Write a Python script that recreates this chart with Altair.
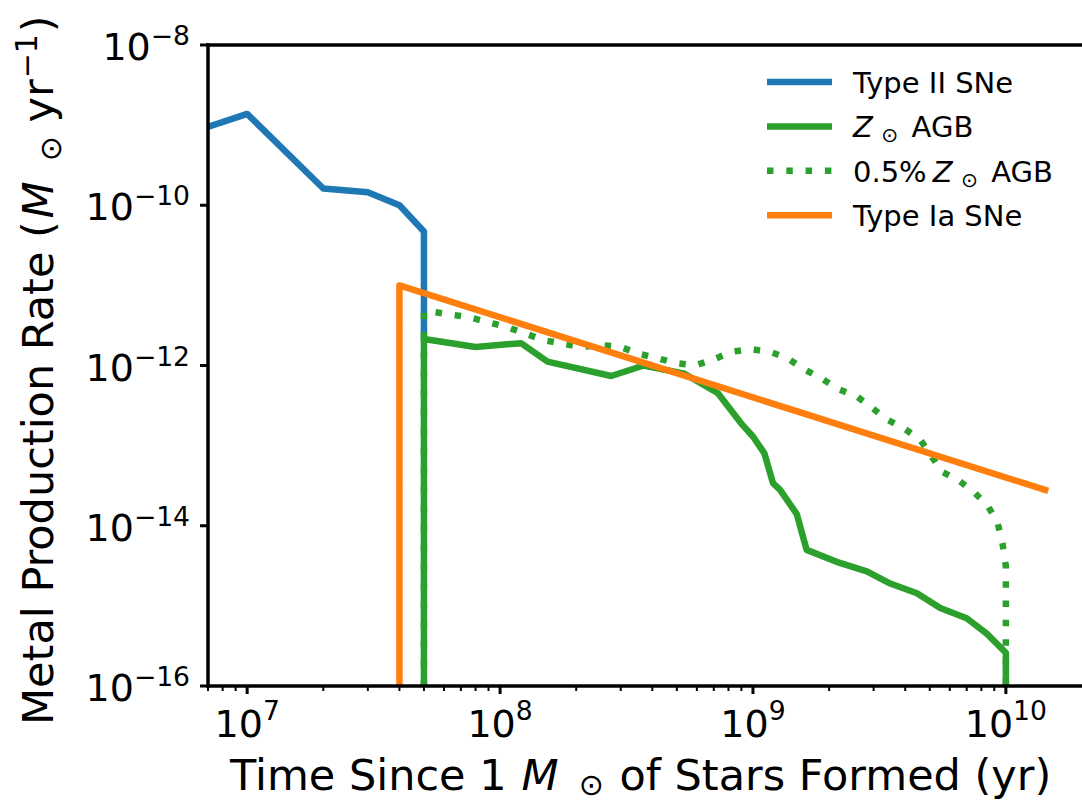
import altair as alt
import pandas as pd

# ---------------------------------------------------------------------------
# Metal production rate (Msun / yr) against time since 1 Msun of stars formed
# ---------------------------------------------------------------------------
snii_time = [7.0e6, 1.0e7, 2.0e7, 3.0e7, 4.0e7, 5.0e7, 5.0e7]
snii_rate = [9.5e-10, 1.38e-9, 1.62e-10, 1.45e-10, 1.0e-10, 4.7e-11, 2.2e-12]

agb_sun_time = [5.0e7, 5.0e7, 8.0e7, 1.21e8, 1.54e8, 2.75e8, 3.7e8, 5.36e8,
                7.27e8, 9.1e8, 1.0e9, 1.11e9, 1.2e9, 1.28e9, 1.49e9, 1.63e9,
                2.14e9, 2.82e9, 3.49e9, 4.45e9, 5.5e9, 7.0e9, 8.4e9, 1.0e10,
                1.0e10]
agb_sun_rate = [1e-16, 2.14e-12, 1.7e-12, 1.9e-12, 1.12e-12, 7.4e-13, 1.0e-12,
                7.9e-13, 4.5e-13, 1.8e-13, 1.3e-13, 8.0e-14, 3.4e-14, 2.8e-14,
                1.4e-14, 5.0e-15, 3.55e-15, 2.7e-15, 1.9e-15, 1.44e-15,
                9.4e-16, 7.0e-16, 4.5e-16, 2.6e-16, 1e-16]

agb_low_time = [5.0e7, 5.0e7, 5.33e7, 7.55e7, 1.07e8, 1.49e8, 2.09e8, 2.5e8,
                3.0e8, 3.54e8, 4.2e8, 4.97e8, 5.9e8, 6.9e8, 8.2e8, 9.8e8,
                1.17e9, 1.37e9, 1.58e9, 1.87e9, 2.17e9, 2.58e9, 2.92e9, 3.4e9,
                3.96e9, 4.6e9, 5.6e9, 6.5e9, 7.5e9, 8.45e9, 9.25e9, 9.7e9,
                1.0e10, 1.0e10]
agb_low_rate = [1e-16, 4.7e-12, 4.7e-12, 4.0e-12, 3.0e-12, 2.07e-12, 1.7e-12,
                1.8e-12, 1.7e-12, 1.4e-12, 1.23e-12, 1.07e-12, 1.0e-12,
                1.17e-12, 1.48e-12, 1.6e-12, 1.48e-12, 1.23e-12, 9.1e-13,
                6.9e-13, 5.1e-13, 4.1e-13, 3.05e-13, 2.1e-13, 1.64e-13,
                1.17e-13, 4.7e-14, 3.7e-14, 2.6e-14, 1.8e-14, 1.13e-14, 6.0e-15,
                3.1e-15, 1e-16]

snia_time = [4.0e7, 4.0e7, 1.43e10]
snia_rate = [1e-16, 1.0e-11, 2.8e-14]

x_major = [1e7, 1e8, 1e9, 1e10]
x_major_exp = ["7", "8", "9", "10"]
y_major = [1e-16, 1e-14, 1e-12, 1e-10, 1e-8]
y_major_exp = ["\u221216", "\u221214", "\u221212", "\u221210", "\u22128"]

legend_labels = ["Type II SNe", "Z AGB", "0.5% Z AGB", "Type Ia SNe"]

# ---------------------------------------------------------------------------
# styling
# ---------------------------------------------------------------------------
FONT = "DejaVu Sans"
BLUE, GREEN, ORANGE = "#1f77b4", "#2ca02c", "#ff7f0e"
LW = 6.5
DOTS = [6.5, 12.8]
SPINE_W = 3.5
W, H = 874, 641
TICK_F, SUP_F = 38, 26.6
TITLE_F, TITLE_SUB = 43, 30
LEG_F, LEG_SUB = 29, 20.3

xs = alt.Scale(type="log", domain=[7e6, 2e10])
ys = alt.Scale(type="log", domain=[1e-16, 1e-8])
ONE = pd.DataFrame({"k": [0]})

# DejaVu Sans advance widths (em) for laying out mixed-style text runs
EM = {" ": .318, "(": .390, ")": .390, "%": .950, ".": .318, "\u2212": .838,
      "\u2299": .838, "A": .684, "B": .686, "F": .575, "G": .775, "I": .295,
      "M": .863, "N": .748, "P": .603, "R": .695, "S": .635, "T": .611,
      "Z": .685, "a": .613, "c": .550, "d": .635, "e": .615, "f": .352,
      "i": .278, "l": .278, "m": .974, "n": .634, "o": .612, "p": .635,
      "r": .411, "s": .521, "t": .392, "u": .634, "y": .592}
for _d in "0123456789":
    EM[_d] = .636


def adv(s, size):
    return sum(EM.get(c, .6) for c in s) * size


def run(parts, x0, y0, angle=0):
    """Lay out (text, size, italic, shift, gap) pieces one after another."""
    out, pos = [], 0.0
    for text, size, italic, shift, gap in parts:
        pos += gap
        kw = dict(align="left", baseline="alphabetic", font=FONT,
                  fontSize=size, color="black")
        if italic:
            kw["fontStyle"] = "italic"
        if shift:
            kw["dy"] = shift
        if angle:
            kw["angle"] = angle
            x, y = x0, y0 - pos
        else:
            x, y = x0 + pos, y0
        out.append(alt.Chart(ONE).mark_text(**kw).encode(
            x=alt.value(x), y=alt.value(y), text=alt.value(text)))
        pos += adv(text, size)
    return out


def series(times, rates, color, dash=None):
    df = pd.DataFrame({"t": times, "r": rates, "i": range(len(times))})
    kw = dict(color=color, strokeWidth=LW, clip=True, strokeJoin="round")
    if dash:
        kw["strokeDash"] = dash
    else:
        kw["strokeCap"] = "square"
    return alt.Chart(df).mark_line(**kw).encode(
        x=alt.X("t:Q", scale=xs, axis=None),
        y=alt.Y("r:Q", scale=ys, axis=None),
        order="i:Q")


layers = [
    series(snii_time, snii_rate, BLUE),
    series(agb_sun_time, agb_sun_rate, GREEN),
    series(agb_low_time, agb_low_rate, GREEN, DOTS),
    series(snia_time, snia_rate, ORANGE),
]

# spines (left, bottom, top)
spine = dict(color="black", strokeWidth=SPINE_W, strokeCap="square")
layers += [
    alt.Chart(ONE).mark_rule(**spine).encode(
        x=alt.value(0), y=alt.value(0), y2=alt.value(H)),
    alt.Chart(ONE).mark_rule(**spine).encode(
        x=alt.value(0), x2=alt.value(W), y=alt.value(H)),
    alt.Chart(ONE).mark_rule(**spine).encode(
        x=alt.value(0), x2=alt.value(W), y=alt.value(0)),
]

# ticks
x_minor = [k * 10.0 ** e for e in range(6, 11) for k in range(2, 10)
           if 7e6 <= k * 10.0 ** e < 2e10]
layers += [
    alt.Chart(pd.DataFrame({"v": x_minor})).mark_rule(
        color="black", strokeWidth=2).encode(
        x=alt.X("v:Q", scale=xs, axis=None),
        y=alt.value(H), y2=alt.value(H + 5)),
    alt.Chart(pd.DataFrame({"v": x_major})).mark_rule(
        color="black", strokeWidth=3).encode(
        x=alt.X("v:Q", scale=xs, axis=None),
        y=alt.value(H), y2=alt.value(H + 8)),
    alt.Chart(pd.DataFrame({"v": y_major})).mark_rule(
        color="black", strokeWidth=3).encode(
        y=alt.Y("v:Q", scale=ys, axis=None),
        x=alt.value(0), x2=alt.value(-8)),
]

# x tick labels: "10" plus a raised exponent, centred on the tick
xdf = pd.DataFrame({"v": x_major, "e": x_major_exp,
                    "n": [len(e) for e in x_major_exp]})
base_adv = adv("10", TICK_F)
for n in sorted(set(xdf["n"])):
    sub = xdf[xdf["n"] == n]
    right = base_adv - (base_adv + n * EM["0"] * SUP_F) / 2
    common = dict(font=FONT, color="black", baseline="alphabetic", dx=right)
    layers.append(alt.Chart(sub).mark_text(
        align="right", fontSize=TICK_F, **common).encode(
        x=alt.X("v:Q", scale=xs, axis=None), y=alt.value(H + 51),
        text=alt.value("10")))
    layers.append(alt.Chart(sub).mark_text(
        align="left", fontSize=SUP_F, **common).encode(
        x=alt.X("v:Q", scale=xs, axis=None), y=alt.value(H + 34),
        text="e:N"))

# y tick labels, right-aligned left of the spine
ydf = pd.DataFrame({"v": y_major, "e": y_major_exp,
                    "n": [len(e) for e in y_major_exp]})
Y_LABEL_RIGHT = -18
for n in sorted(set(ydf["n"])):
    sub = ydf[ydf["n"] == n]
    sup_w = adv(sub["e"].iloc[0], SUP_F)
    layers.append(alt.Chart(sub).mark_text(
        align="right", baseline="alphabetic", font=FONT, color="black",
        fontSize=TICK_F, dy=15).encode(
        y=alt.Y("v:Q", scale=ys, axis=None),
        x=alt.value(Y_LABEL_RIGHT - sup_w), text=alt.value("10")))
    layers.append(alt.Chart(sub).mark_text(
        align="right", baseline="alphabetic", font=FONT, color="black",
        fontSize=SUP_F, dy=0).encode(
        y=alt.Y("v:Q", scale=ys, axis=None),
        x=alt.value(Y_LABEL_RIGHT), text="e:N"))

# axis titles
sp = EM[" "] * TITLE_F
layers += run([
    ("Time Since 1", TITLE_F, False, 0, 0),
    ("M", TITLE_F, True, 0, sp),
    ("\u2299", TITLE_SUB, False, 5, 20),
    ("of Stars Formed (yr)", TITLE_F, False, 0, sp + 2),
], 22, H + 104)

layers += run([
    ("Metal Production Rate (", TITLE_F, False, 0, 0),
    ("M", TITLE_F, True, 0, 0),
    ("\u2299", TITLE_SUB, False, 8, 20),
    ("yr", TITLE_F, False, 0, sp),
    ("\u22121", TITLE_SUB, False, -16, 1),
    (")", TITLE_F, False, 0, 2),
], -155, 680, angle=270)

# legend
LEG_X0, LEG_X1, LEG_TX = 559, 624, 645
leg_y = [37, 81.4, 125.8, 170.2]
leg_style = [(BLUE, None), (GREEN, None), (GREEN, DOTS), (ORANGE, None)]
for yy, (col, dash) in zip(leg_y, leg_style):
    kw = dict(color=col, strokeWidth=LW)
    if dash:
        kw["strokeDash"] = dash
    layers.append(alt.Chart(ONE).mark_rule(**kw).encode(
        x=alt.value(LEG_X0), x2=alt.value(LEG_X1), y=alt.value(yy)))

lsp = EM[" "] * LEG_F
layers += run([(legend_labels[0], LEG_F, False, 0, 0)], LEG_TX, leg_y[0] + 11)
layers += run([
    ("Z", LEG_F, True, 0, 0),
    ("\u2299", LEG_SUB, False, 5, 8.5),
    ("AGB", LEG_F, False, 0, lsp + 4),
], LEG_TX, leg_y[1] + 11)
layers += run([
    ("0.5%", LEG_F, False, 0, 0),
    ("Z", LEG_F, True, 0, 6),
    ("\u2299", LEG_SUB, False, 5, 8.5),
    ("AGB", LEG_F, False, 0, lsp + 4),
], LEG_TX, leg_y[2] + 11)
layers += run([(legend_labels[3], LEG_F, False, 0, 0)], LEG_TX, leg_y[3] + 11)

chart = alt.layer(*layers).properties(
    width=W, height=H,
    padding={"left": 208, "top": 45, "right": 0, "bottom": 116},
    autosize=alt.AutoSizeParams(type="none"),
).configure_view(stroke=None).configure(font=FONT)

chart.save("out.html", embed_options={"renderer": "svg", "actions": False})
